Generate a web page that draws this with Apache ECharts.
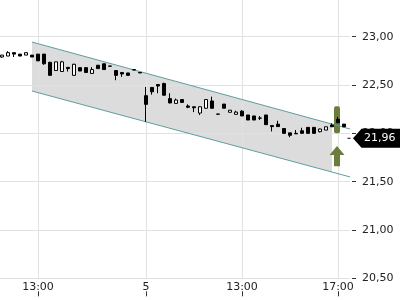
<!DOCTYPE html>
<html><head><meta charset="utf-8">
<script src="https://cdn.jsdelivr.net/npm/echarts@6/dist/echarts.min.js"></script>
<style>html,body{margin:0;padding:0;background:#fff;overflow:hidden}#wrap{position:relative;width:400px;height:300px;overflow:hidden}#c{position:absolute;left:-4px;top:0;width:404px;height:300px}</style>
</head><body><div id="wrap"><div id="c"></div></div>
<script>
// ---- data ----
const day4Times = ['11:30','11:45','12:00','12:15','12:30','12:45','13:00','13:15','13:30','13:45','14:00','14:15','14:30','14:45','15:00','15:15','15:30','15:45','16:00','16:15','16:30','16:45','17:00','17:15'];
const day5Times = ['09:00','09:15','09:30','09:45','10:00','10:15','10:30','10:45','11:00','11:15','11:30','11:45','12:00','12:15','12:30','12:45','13:00','13:15','13:30','13:45','14:00','14:15','14:30','14:45','15:00','15:15','15:30','15:45','16:00','16:15','16:30','16:45','17:00','17:15'];
const padBefore = '4 11:15';
const padAfter = '5 17:30';
// [open, close, low, high]
const day4Ohlc = [
 [22.79,22.81,22.78,22.81],[22.80,22.835,22.80,22.85],[22.835,22.82,22.79,22.835],[22.82,22.80,22.80,22.82],
 [22.81,22.835,22.81,22.835],[22.81,22.79,22.79,22.81],[22.82,22.75,22.75,22.82],[22.82,22.72,22.71,22.82],
 [22.735,22.60,22.60,22.74],[22.65,22.74,22.65,22.74],[22.64,22.74,22.64,22.75],[22.683,22.67,22.64,22.683],
 [22.60,22.715,22.60,22.72],[22.68,22.645,22.645,22.68],[22.68,22.63,22.63,22.68],[22.62,22.66,22.62,22.685],
 [22.705,22.67,22.67,22.705],[22.72,22.66,22.66,22.72],[22.697,22.695,22.695,22.697],[22.65,22.60,22.55,22.65],
 [22.63,22.615,22.585,22.63],[22.625,22.60,22.60,22.625],[22.66,22.655,22.655,22.66],[22.63,22.625,22.625,22.63]
];
const day5Ohlc = [
 [22.39,22.30,22.12,22.48],[22.475,22.43,22.40,22.48],[22.505,22.49,22.415,22.51],[22.515,22.395,22.39,22.525],
 [22.36,22.315,22.31,22.415],[22.31,22.345,22.31,22.36],[22.35,22.32,22.32,22.35],[22.283,22.27,22.26,22.30],
 [22.275,22.265,22.22,22.275],[22.21,22.275,22.19,22.28],[22.26,22.35,22.255,22.355],[22.335,22.26,22.255,22.38],
 [22.20,22.198,22.198,22.20],[22.303,22.26,22.26,22.303],[22.218,22.24,22.218,22.24],[22.197,22.22,22.197,22.234],
 [22.23,22.18,22.18,22.24],[22.19,22.138,22.138,22.19],[22.18,22.138,22.138,22.18],[22.159,22.157,22.138,22.179],
 [22.19,22.09,22.09,22.19],[22.08,22.07,22.02,22.08],[22.095,22.07,22.07,22.13],[22.05,22.0,22.0,22.05],
 [22.005,21.98,21.96,22.005],[22.0,21.995,21.995,22.035],[22.027,22.0,22.0,22.058],[22.062,22.0,22.0,22.062],
 [22.062,22.0,22.0,22.062],[22.017,22.045,22.01,22.05],[22.034,22.068,22.034,22.068],[22.086,22.068,22.068,22.104],
 [22.145,22.11,22.11,22.17],[22.096,22.068,22.068,22.096]
];
const xLabelKeys = ['4 13:00','5 09:00','5 13:00','5 17:00'];
const yTicks = [20.5, 21.0, 21.5, 22.0, 22.5, 23.0];
// trend channel: start, end of fill, end of lines
const channelTimes = ['4 12:45','5 16:45','5 17:30'];
const channelUpper = [22.945, 22.096, 22.045];
const channelLower = [22.438, 21.599, 21.549];
// signal marker
const signalTime = '5 17:00';
const signalBar = [22.0, 22.28];
const signalArrow = [21.87, 21.66];
const lastPrice = 21.96;

// ---- build ----
const categories = [padBefore].concat(day4Times.map(t => '4 ' + t), day5Times.map(t => '5 ' + t), [padAfter]);
const candleData = day4Times.map((t, i) => ['4 ' + t].concat(day4Ohlc[i]))
  .concat(day5Times.map((t, i) => ['5 ' + t].concat(day5Ohlc[i])));
const fmt = v => v.toFixed(2).replace('.', ',');
const idx = k => categories.indexOf(k);
const showKey = (i, v) => xLabelKeys.indexOf(v) >= 0;
const FONT = 'DejaVu Sans';

const chart = echarts.init(document.getElementById('c'), null, {renderer: 'canvas'});
chart.setOption({
  animation: false,
  backgroundColor: '#fff',
  grid: {left: 0, right: 50, top: 0, bottom: 21.7},
  xAxis: [{
    type: 'category', data: categories, boundaryGap: false,
    axisLine: {show: false}, axisTick: {show: false},
    axisLabel: {interval: showKey, formatter: v => v.endsWith('09:00') ? v.split(' ')[0] : v.split(' ')[1],
      fontFamily: FONT, fontSize: 11, color: '#222', margin: 3},
    splitLine: {show: true, interval: showKey, lineStyle: {color: '#e1e1e1', width: 1}}
  }, {
    type: 'category', data: categories, boundaryGap: false, position: 'bottom', offset: 13,
    axisLine: {show: false}, axisLabel: {show: false}, splitLine: {show: false},
    axisTick: {show: true, interval: showKey, length: 5, lineStyle: {color: '#333'}}
  }],
  yAxis: {
    type: 'value', position: 'right', min: 20.5, max: 23.38, interval: 0.5, offset: 2,
    axisLine: {show: false},
    axisTick: {show: true, length: 4, lineStyle: {color: '#333'}},
    axisLabel: {fontFamily: FONT, fontSize: 11, color: '#222', margin: 10, showMaxLabel: false,
      formatter: v => yTicks.some(t => Math.abs(t - v) < 1e-6) ? fmt(v) : ''},
    splitLine: {show: true, showMaxLine: false, lineStyle: {color: '#e1e1e1', width: 1}}
  },
  series: [{
    type: 'custom', z: -1, silent: true, data: [[0, 0]],
    renderItem: (params, api) => {
      const p = (k, v) => api.coord([idx(k), v]);
      return {type: 'polygon', shape: {points: [
        p(channelTimes[0], channelUpper[0]), p(channelTimes[1], channelUpper[1]),
        p(channelTimes[1], channelLower[1]), p(channelTimes[0], channelLower[0])]},
        style: {fill: '#dcdcdc'}};
    }
  }, {
    type: 'custom', z: 4, silent: true, data: [[0, 0]],
    renderItem: (params, api) => {
      const p = (k, v) => api.coord([idx(k), v]);
      const a = p(channelTimes[0], channelUpper[0]), b = p(channelTimes[2], channelUpper[2]);
      const c = p(channelTimes[0], channelLower[0]), d = p(channelTimes[2], channelLower[2]);
      const st = {stroke: '#5f9ea0', lineWidth: 1, fill: null};
      return {type: 'group', children: [
        {type: 'line', shape: {x1: a[0], y1: a[1], x2: b[0], y2: b[1]}, style: st},
        {type: 'line', shape: {x1: c[0], y1: c[1], x2: d[0], y2: d[1]}, style: st}
      ]};
    }
  }, {
    type: 'custom', z: 3, silent: true, data: [[0, 0]],
    renderItem: (params, api) => {
      const top = api.coord([idx(signalTime), signalBar[1]]);
      const bot = api.coord([idx(signalTime), signalBar[0]]);
      const at = api.coord([idx(signalTime), signalArrow[0]]);
      const ab = api.coord([idx(signalTime), signalArrow[1]]);
      const cx = top[0] - 1;
      const green = '#6b7d3c';
      const headH = 9;
      return {type: 'group', children: [
        {type: 'rect', shape: {x: cx - 3, y: top[1], width: 6, height: bot[1] - top[1], r: 2}, style: {fill: green}},
        {type: 'polygon', shape: {points: [[cx, at[1]], [cx + 7.5, at[1] + headH], [cx + 3, at[1] + headH],
          [cx + 3, ab[1]], [cx - 3, ab[1]], [cx - 3, at[1] + headH], [cx - 7.5, at[1] + headH]]}, style: {fill: green}}
      ]};
    }
  }, {
    type: 'candlestick', z: 5, data: candleData, encode: {x: 0, y: [1, 2, 3, 4]},
    barWidth: 4,
    itemStyle: {color: '#ffffff', color0: '#000000', borderColor: '#000000', borderColor0: '#000000', borderWidth: 1},
    markPoint: {
      silent: true,
      data: [{
        coord: [padAfter, lastPrice],
        symbol: 'path://M0,9 L3,9 L3,10 L0,10 Z M5.5,9.5 L14,0 L52.5,0 L52.5,19 L14,19 Z',
        symbolSize: [52.5, 19], symbolKeepAspect: false, symbolOffset: [23.75, 1],
        itemStyle: {color: '#000'},
        label: {show: true, position: 'inside', offset: [6, 0], formatter: fmt(lastPrice),
          color: '#fff', fontFamily: FONT, fontSize: 11}
      }]
    }
  }]
});
</script></body></html>
